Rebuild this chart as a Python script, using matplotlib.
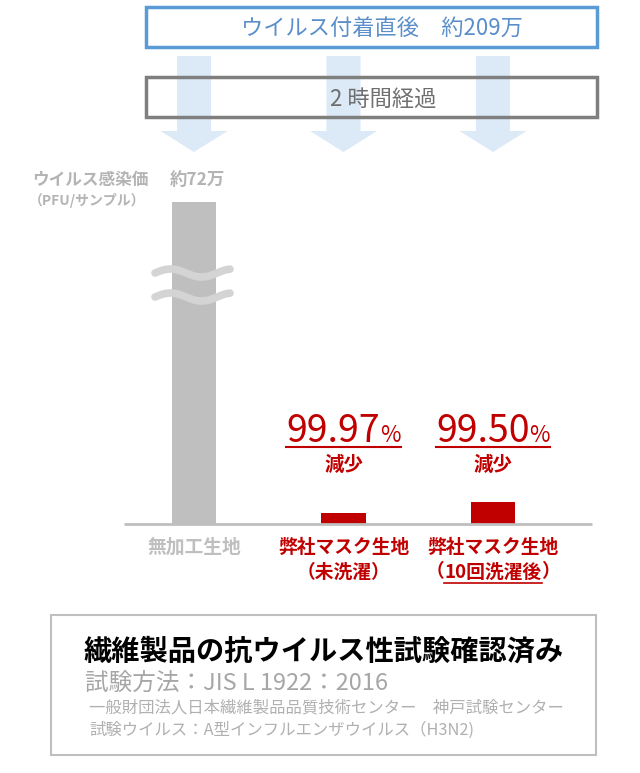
import matplotlib.pyplot as plt
import numpy as np
from matplotlib.patches import Rectangle, Polygon

plt.rcParams['font.family'] = ['Noto Sans CJK JP', 'DejaVu Sans']

# data
categories = ['無加工生地', '弊社マスク生地', '弊社マスク生地']
sub_labels = ['', '（未洗濯）', '（10回洗濯後）']
bar_heights = [322, 11, 22]      # drawn heights, first bar is broken (約72万)
bar_colors = ['#bfbfbf', '#c00000', '#c00000']
label_colors = ['#bfbfbf', '#c00000', '#c00000']
reductions = ['', '99.97', '99.50']
start_label = 'ウイルス付着直後　約209万'
time_label = '2 時間経過'
y_title = 'ウイルス感染価'
y_unit = '（PFU/サンプル）'
control_value = '約72万'
footer = ['繊維製品の抗ウイルス性試験確認済み',
          '試験方法：JIS L 1922：2016',
          '一般財団法人日本繊維製品品質技術センター　神戸試験センター',
          '試験ウイルス：A型インフルエンザウイルス（H3N2)']

RED = '#c00000'
W, H = 640, 773

fig = plt.figure(figsize=(6.4, 7.73), dpi=100)

# bar axes: whole figure, x in category units, y in pixels above the baseline
ax = fig.add_axes([0, 0, 1, 1])
step = 149.5
x0 = 194
ax.set_xlim((0 - x0) / step, (W - x0) / step)
ax.set_ylim(-(H - 524), 524)
ax.axis('off')

x = np.arange(len(categories))
ax.bar(x, bar_heights, width=0.3, color=bar_colors, zorder=3)
ax.hlines(0, (124 - x0) / step, (592 - x0) / step, color='#bfbfbf', lw=2, zorder=4)

# break marks on the tall bar
xp = np.linspace(155, 230, 60)
for base in [251, 227]:
    yy = base + 4 * np.sin(2 * np.pi * (xp - 155) / 62)
    ax.plot((xp - x0) / step, yy, color='#d4d4d4', lw=5.5,
            solid_capstyle='round', zorder=5)

# arrows
for i in x:
    sw, hw = 17 / step, 33.5 / step
    pts = [(i - sw, 468), (i + sw, 468), (i + sw, 393), (i + hw, 393),
           (i, 372), (i - hw, 393), (i - sw, 393)]
    ax.add_patch(Polygon(pts, closed=True, facecolor='#dce9f6',
                         edgecolor='none', zorder=1))

# overlay in pixel coordinates
ov = fig.add_axes([0, 0, 1, 1], zorder=2)
ov.set_xlim(0, W)
ov.set_ylim(H, 0)
ov.axis('off')
ov.patch.set_alpha(0)

ov.add_patch(Rectangle((146, 7), 451, 40, fill=False, ec='#5b9bd5', lw=2.5))
ov.add_patch(Rectangle((146, 77), 451, 40, fill=False, ec='#7f7f7f', lw=2.5))
ov.text(382, 28, start_label, fontsize=16, color='#5b8fc9', ha='center', va='center')
ov.text(383, 99, time_label, fontsize=16, color='#6e6e6e', ha='center', va='center')

ov.text(90, 180, y_title, fontsize=12, color='#b4b4b4', weight='bold',
        ha='center', va='center')
ov.text(87, 201, y_unit, fontsize=10, color='#b4b4b4', weight='bold',
        ha='center', va='center')
ov.text(197, 180, control_value, fontsize=12.5, color='#b4b4b4', weight='bold',
        ha='center', va='center')

cat_px = ax.transData.transform(np.column_stack([x, np.zeros(len(x))]))[:, 0]
r = fig.canvas.get_renderer()

for i, cx in enumerate(cat_px):
    ov.text(cx, 547, categories[i], fontsize=13.5, color=label_colors[i],
            weight='bold', ha='center', va='center')
    if reductions[i]:
        t1 = ov.text(0, 442, reductions[i], fontsize=27, color=RED,
                     ha='left', va='baseline')
        t2 = ov.text(0, 442, '%', fontsize=16, color=RED, ha='left', va='baseline')
        w1 = t1.get_window_extent(r).width
        w2 = t2.get_window_extent(r).width
        left = cx - (w1 + w2) / 2
        t1.set_x(left)
        t2.set_x(left + w1)
        ov.plot([left, left + w1 + w2], [447, 447], color=RED, lw=1.5)
        ov.text(cx, 465, '減少', fontsize=14, color=RED, weight='bold',
                ha='center', va='center')
    if sub_labels[i]:
        lab = sub_labels[i]
        if lab.startswith('（10'):
            inner = lab[1:-1]
            t = ov.text(cx, 572, inner, fontsize=13.5, color=RED, weight='bold',
                        ha='center', va='center')
            w = t.get_window_extent(r).width
            ov.text(cx - w / 2, 572, '（', fontsize=13.5, color=RED, weight='bold',
                    ha='right', va='center')
            ov.text(cx + w / 2, 572, '）', fontsize=13.5, color=RED, weight='bold',
                    ha='left', va='center')
            ov.plot([cx - w / 2, cx + w / 2], [583, 583], color=RED, lw=1.2)
        else:
            ov.text(cx, 572, lab, fontsize=13.5, color=RED, weight='bold',
                    ha='center', va='center')

# footer box
ov.add_patch(Rectangle((51, 615), 545, 140, fill=False, ec='#bfbfbf', lw=1.5))
ov.text(83, 652, footer[0], fontsize=20.3, weight='bold', color='black', va='center')
ov.text(85, 683, footer[1], fontsize=17, color='#a6a6a6', va='center')
ov.text(89, 708, footer[2], fontsize=11.8, color='#b0b0b0', va='center')
ov.text(89, 730, footer[3], fontsize=11.8, color='#b0b0b0', va='center')

fig.savefig('out.png', dpi=100)
